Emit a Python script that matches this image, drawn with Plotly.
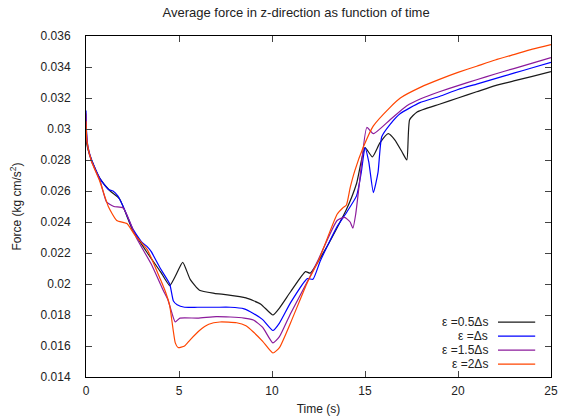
import plotly.graph_objects as go

t_black = [0, 0.1, 0.3, 0.75, 1.3, 1.8, 2.5, 3.3, 4.0, 4.5, 4.8, 5.2, 5.6, 6.1, 6.9, 7.6, 8.6, 9.4, 10.05, 10.4, 11.0, 11.8, 12.05, 12.95, 14.0, 14.55, 15.0, 15.4, 15.8, 16.25, 16.6, 17.0, 17.25, 17.4, 17.8, 19.0, 20, 21, 22, 23, 24, 25]
f_black = [0.0293, 0.0287, 0.0280, 0.0268, 0.0260, 0.0255, 0.0235, 0.0220, 0.0208, 0.0199, 0.0205, 0.0214, 0.0203, 0.0196, 0.0194, 0.0193, 0.0191, 0.0187, 0.0180, 0.01845, 0.0195, 0.0208, 0.0207, 0.0224, 0.0248, 0.0265, 0.0288, 0.0282, 0.0291, 0.0297, 0.0293, 0.0285, 0.0280, 0.0306, 0.0311, 0.0316, 0.0320, 0.0324, 0.0328, 0.0331, 0.0334, 0.0337]

t_blue = [0, 0.03, 0.1, 0.3, 0.75, 1.2, 1.45, 1.7, 2.0, 2.5, 3.0, 3.3, 3.5, 4.0, 4.5, 4.7, 4.9, 5.3, 6.0, 7.0, 7.75, 8.5, 9.0, 9.5, 10.05, 10.4, 11.0, 11.9, 12.2, 12.6, 13.5, 14.0, 14.55, 14.8, 15.0, 15.2, 15.45, 15.7, 15.9, 16.35, 16.9, 17.95, 19, 20, 21, 22, 23, 24, 25]
f_blue = [0.0312, 0.0298, 0.0289, 0.0280, 0.0268, 0.0261, 0.0260, 0.0257, 0.0250, 0.0236, 0.0227, 0.0224, 0.0221, 0.0210, 0.0200, 0.0189, 0.01866, 0.0185, 0.0185, 0.0185, 0.0185, 0.0184, 0.0181, 0.0177, 0.0170, 0.01748, 0.0188, 0.02035, 0.0203, 0.0215, 0.0237, 0.0246, 0.0257, 0.0272, 0.0288, 0.0279, 0.0259, 0.0272, 0.0295, 0.0303, 0.0310, 0.0317, 0.0321, 0.03255, 0.0329, 0.03325, 0.0336, 0.03395, 0.0343]

t_purple = [0, 0.03, 0.1, 0.3, 0.75, 1.1, 1.5, 2.0, 2.7, 3.5, 4.15, 4.4, 4.6, 4.8, 5.05, 6.0, 7.0, 7.75, 8.5, 9.0, 9.5, 10.05, 10.4, 11.0, 12.05, 12.5, 13.5, 13.9, 14.2, 14.35, 14.5, 14.7, 15.1, 15.45, 16.35, 17.25, 18, 19, 20, 21, 22, 23, 24, 25]
f_purple = [0.0310, 0.0297, 0.0288, 0.0279, 0.0267, 0.0253, 0.0250, 0.0249, 0.0230, 0.0213, 0.0196, 0.0190, 0.0182, 0.01755, 0.0178, 0.0178, 0.0179, 0.01787, 0.0178, 0.01768, 0.0172, 0.0162, 0.0166, 0.0181, 0.0205, 0.0216, 0.0241, 0.0243, 0.0240, 0.0236, 0.0245, 0.0265, 0.0301, 0.0297, 0.0306, 0.0315, 0.03195, 0.0324, 0.0328, 0.03318, 0.03355, 0.0339, 0.03425, 0.0346]

t_orange = [0, 0.05, 0.3, 0.75, 1.2, 1.65, 2.2, 2.6, 3.3, 4.0, 4.3, 4.5, 4.8, 4.95, 5.3, 5.6, 6.1, 6.6, 7.2, 8.1, 8.6, 9.0, 9.5, 10.05, 10.4, 11.0, 11.9, 12.5, 13.5, 13.8, 14.0, 14.2, 14.45, 14.9, 15.45, 16.35, 16.9, 18, 19, 20, 21, 22, 23, 24, 25]
f_orange = [0.0305, 0.0292, 0.0279, 0.0266, 0.0250, 0.0241, 0.0239, 0.0232, 0.0222, 0.0203, 0.0194, 0.0186, 0.0162, 0.0159, 0.0160, 0.0164, 0.0170, 0.0174, 0.01755, 0.0175, 0.0173, 0.0169, 0.0163, 0.01555, 0.0159, 0.0175, 0.0201, 0.0215, 0.0245, 0.0249, 0.0251, 0.0262, 0.0273, 0.0288, 0.0302, 0.0314, 0.0320, 0.0327, 0.0332, 0.03365, 0.03405, 0.03445, 0.0348, 0.03515, 0.03545]

labels = ["ε =0.5Δs", "ε =Δs", "ε =1.5Δs", "ε =2Δs"]
colors = ["#1a1a1a", "#0000ff", "#8b1a9b", "#ff4500"]
series = [(t_black, f_black), (t_blue, f_blue), (t_purple, f_purple), (t_orange, f_orange)]

x_ticks = [0, 5, 10, 15, 20, 25]
y_ticks = [0.014, 0.016, 0.018, 0.02, 0.022, 0.024, 0.026, 0.028, 0.03, 0.032, 0.034, 0.036]
y_ticktext = ["0.014", "0.016", "0.018", "0.02", "0.022", "0.024", "0.026", "0.028", "0.03", "0.032", "0.034", "0.036"]

fig = go.Figure()
for (t, f), name, c in zip(series, labels, colors):
    fig.add_trace(go.Scatter(x=t, y=f, mode="lines", name=name,
                             line=dict(color=c, width=1.2, shape="spline", smoothing=0.5),
                             showlegend=False))

# legend drawn gnuplot-style: text right-aligned, sample line to its right
leg_y = [0.161, 0.120, 0.079, 0.038]
for name, c, yy in zip(labels, colors, leg_y):
    fig.add_annotation(xref="paper", yref="paper", x=0.869, y=yy, text=name,
                       showarrow=False, xanchor="right", yanchor="middle",
                       font=dict(size=12, color="#222"))
    fig.add_shape(type="line", xref="paper", yref="paper", x0=0.886, x1=0.966,
                  y0=yy, y1=yy, line=dict(color=c, width=1.2))

fig.update_layout(
    width=563, height=419,
    margin=dict(l=86, r=12, t=36, b=42),
    paper_bgcolor="white", plot_bgcolor="white",
    font=dict(family="Liberation Sans, Arial, sans-serif", size=12, color="#222"),
    title=dict(text="Average force in z-direction as function of time",
               xref="container", x=0.526, xanchor="center", y=0.971, yanchor="middle",
               font=dict(size=13, color="#222")),
)
fig.update_xaxes(range=[0, 25], tickvals=x_ticks, ticks="inside", ticklen=6,
                 showline=True, linecolor="black", linewidth=1, mirror="ticks",
                 showgrid=False, zeroline=False, automargin=False,
                 ticklabelstandoff=3,
                 title=dict(text="Time (s)", standoff=7, font=dict(size=12)))
fig.update_yaxes(range=[0.014, 0.036], tickvals=y_ticks, ticktext=y_ticktext,
                 ticks="inside", ticklen=6,
                 showline=True, linecolor="black", linewidth=1, mirror="ticks",
                 showgrid=False, zeroline=False, automargin=False,
                 ticklabelstandoff=12,
                 title=dict(text="Force (kg cm/s<sup>2</sup>)", standoff=16, font=dict(size=12)))

fig.write_html("out.html", config={"displayModeBar": False},
               post_script="document.body.style.margin='0';document.body.style.overflow='hidden';")
